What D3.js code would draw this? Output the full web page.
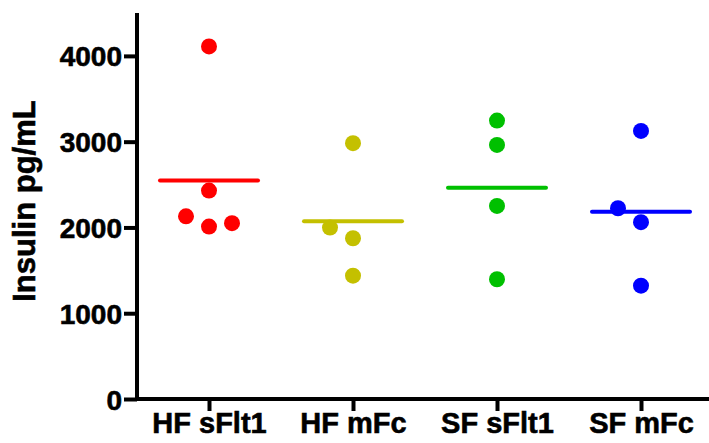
<!DOCTYPE html>
<html>
<head>
<meta charset="utf-8">
<script src="https://cdn.jsdelivr.net/npm/d3@7"></script>
<style>
  html, body { margin: 0; padding: 0; background: #fff; }
  svg { display: block; }
  text { font-family: "Liberation Sans", Arial, Helvetica, sans-serif; font-weight: bold; fill: #000; stroke: #000; stroke-width: 0.6px; }
</style>
</head>
<body>
<svg id="chart" width="709" height="443"></svg>
<script>
// Groups and their insulin readings (pg/mL)
const categories = ["HF sFlt1", "HF mFc", "SF sFlt1", "SF mFc"];
const hfSflt1 = [4110, 2430, 2010, 2130, 2050];
const hfMfc = [2982, 1438, 1874, 1998];
const sfSflt1 = [3246, 2962, 2251, 1396];
const sfMfc = [3125, 1321, 2061, 2224];
const seriesValues = [hfSflt1, hfMfc, sfSflt1, sfMfc];
const colors = ["#ff0000", "#c4c000", "#00c000", "#0000ff"];
const yTicks = [0, 1000, 2000, 3000, 4000];
const yLabel = "Insulin pg/mL";

const svg = d3.select("#chart");
const W = 709, H = 443;
const axisLeftX = 137, axisBottomY = 399, axisTopY = 13;

const y = d3.scaleLinear().domain([0, 4500]).range([axisBottomY, axisTopY]);
const x = d3.scalePoint().domain(categories).range([209, 641]);

const dotR = 8;
const spread = 23;

// Y axis
const yAxis = svg.append("g")
  .attr("transform", `translate(${axisLeftX},0)`)
  .call(d3.axisLeft(y).tickValues(yTicks).tickSize(13).tickSizeOuter(0).tickFormat(d3.format("d")));
yAxis.select(".domain").attr("stroke", "#000").attr("stroke-width", 4)
  .attr("d", `M0,${axisTopY}V${axisBottomY + 2}`);
yAxis.selectAll(".tick line").attr("stroke", "#000").attr("stroke-width", 4);
yAxis.selectAll(".tick text")
  .attr("x", -15).attr("dy", "0.36em")
  .style("font-size", "28px");

// X axis
const xAxis = svg.append("g")
  .attr("transform", `translate(0,${axisBottomY})`)
  .call(d3.axisBottom(x).tickSize(12).tickSizeOuter(0));
xAxis.select(".domain").attr("stroke", "#000").attr("stroke-width", 4)
  .attr("d", `M${axisLeftX - 2},0H${W}`);
xAxis.selectAll(".tick line").attr("stroke", "#000").attr("stroke-width", 4);
xAxis.selectAll(".tick text")
  .attr("y", 34).attr("dy", 0)
  .style("font-size", "29px");

// Y axis title
svg.append("text")
  .attr("transform", `translate(35,201) rotate(-90)`)
  .attr("text-anchor", "middle")
  .style("font-size", "31px")
  .text(yLabel);

// Dots: each point goes to the centre column unless a point already there
// overlaps it vertically, then it moves to the left column, then the right.
const slots = [0, -1, 1];
seriesValues.forEach((vals, gi) => {
  const cx = x(categories[gi]);
  const placed = [];
  vals.forEach(v => {
    const py = y(v);
    let slot = slots.find(s => !placed.some(p => p.slot === s && Math.abs(p.py - py) < 2 * dotR));
    if (slot === undefined) slot = 0;
    placed.push({ v, py, slot });
  });
  const g = svg.append("g");
  g.selectAll("circle").data(placed).join("circle")
    .attr("cx", d => cx + d.slot * spread)
    .attr("cy", d => d.py)
    .attr("r", dotR)
    .attr("fill", colors[gi]);

  // Mean line
  const m = d3.mean(vals);
  g.append("line")
    .attr("x1", cx - 49).attr("x2", cx + 49)
    .attr("y1", y(m)).attr("y2", y(m))
    .attr("stroke", colors[gi]).attr("stroke-width", 4)
    .attr("stroke-linecap", "round");
});
</script>
</body>
</html>
